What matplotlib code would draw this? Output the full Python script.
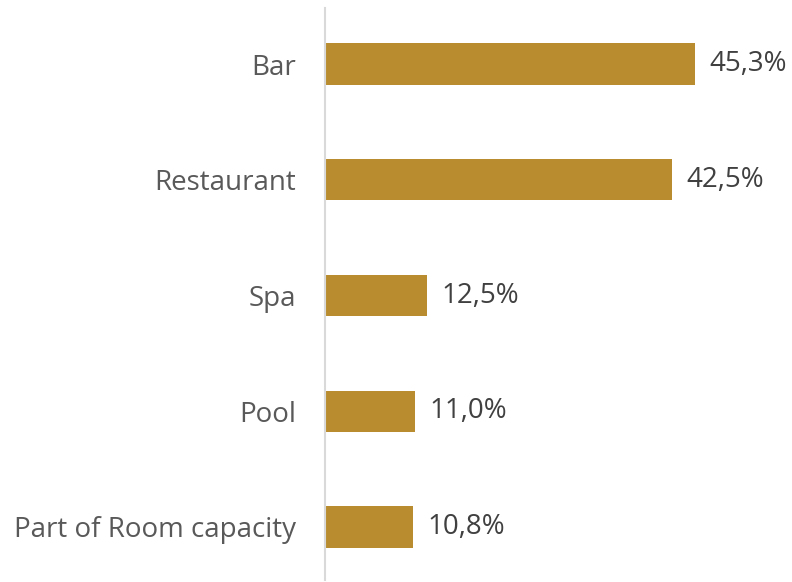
import matplotlib.pyplot as plt

# Data
categories = ['Bar', 'Restaurant', 'Spa', 'Pool', 'Part of Room capacity']
values = [45.3, 42.5, 12.5, 11.0, 10.8]
labels = ['45,3%', '42,5%', '12,5%', '11,0%', '10,8%']

plt.rcParams['font.family'] = ['Open Sans', 'DejaVu Sans']

fig = plt.figure(figsize=(7.92, 5.82), dpi=100)
ax = fig.add_axes([325 / 792, 2 / 582, 1 - 325 / 792, 572 / 582])

y = list(range(len(categories)))
ax.barh(y, values, height=0.355, color='#B98D2F')

# value labels to the right of each bar
for yi, v, lab in zip(y, values, labels):
    ax.text(v + 1.8, yi, lab, va='center', ha='left', fontsize=20, color='#404040')

ax.set_yticks(y)
ax.set_yticklabels(categories, fontsize=20, color='#595959')
ax.tick_params(axis='y', length=0, pad=21)
ax.set_xticks([])
ax.set_xlim(0, 57.2)
ax.set_ylim(4.458, -0.484)

for s in ['top', 'right', 'bottom']:
    ax.spines[s].set_visible(False)
ax.spines['left'].set_color('#D9D9D9')
ax.spines['left'].set_linewidth(1.5)

fig.savefig('out.png', dpi=100)
